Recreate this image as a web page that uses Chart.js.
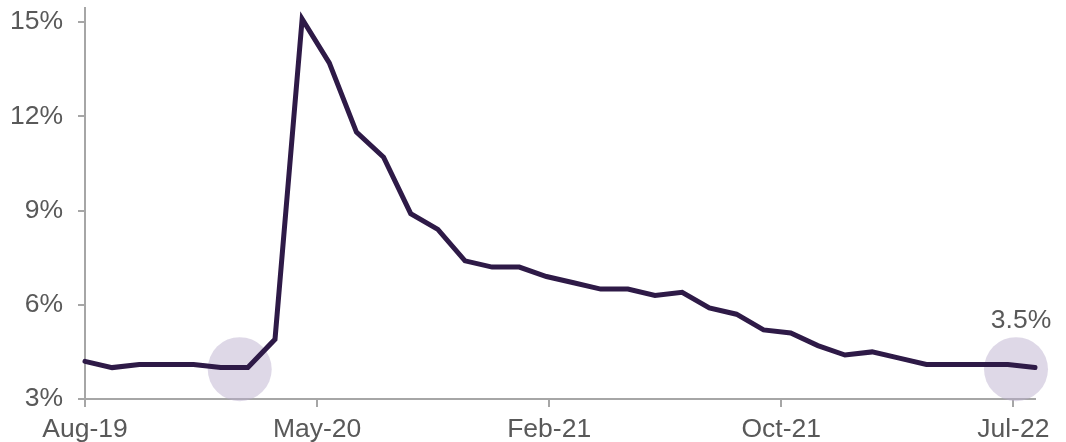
<!DOCTYPE html>
<html>
<head>
<meta charset="utf-8">
<script src="https://cdn.jsdelivr.net/npm/chart.js@4"></script>
<style>
  html, body { margin: 0; padding: 0; background: #fff; }
  #wrap { width: 1066px; height: 442px; }
</style>
</head>
<body>
<div id="wrap"><canvas id="rateChart" width="1066" height="442"></canvas></div>
<script>
// monthly series, Aug-19 .. Jul-22
const months = ['Aug-19','Sep-19','Oct-19','Nov-19','Dec-19','Jan-20','Feb-20','Mar-20','Apr-20','May-20','Jun-20','Jul-20',
                'Aug-20','Sep-20','Oct-20','Nov-20','Dec-20','Jan-21','Feb-21','Mar-21','Apr-21','May-21','Jun-21','Jul-21',
                'Aug-21','Sep-21','Oct-21','Nov-21','Dec-21','Jan-22','Feb-22','Mar-22','Apr-22','May-22','Jun-22','Jul-22'];
const rate = [4.2, 4.0, 4.1, 4.1, 4.1, 4.0, 4.0, 4.9, 15.1, 13.7, 11.5, 10.7,
              8.9, 8.4, 7.4, 7.2, 7.2, 6.9, 6.7, 6.5, 6.5, 6.3, 6.4, 5.9,
              5.7, 5.2, 5.1, 4.7, 4.4, 4.5, 4.3, 4.1, 4.1, 4.1, 4.1, 4.0];

// axis ticks
const xTickLabels = ['Aug-19', 'May-20', 'Feb-21', 'Oct-21', 'Jul-22'];
const xTickAt = [0, 8.55, 17.1, 25.65, 34.2];
const yTicks = [3, 6, 9, 12, 15];

// highlighted spots
const highlightX = [5.7, 34.3];
const highlightY = [3.95, 3.95];
const highlightLabel = ['', '3.5%'];

const font = { family: '"Liberation Sans", Arial, sans-serif', size: 26.5 };
const textColor = '#595959';
const axisColor = '#a6a6a6';

const labelPlugin = {
    id: 'highlightLabels',
    afterDatasetsDraw(chart) {
        const ctx = chart.ctx;
        const xs = chart.scales.x, ys = chart.scales.y;
        ctx.save();
        ctx.font = font.size + 'px ' + font.family;
        ctx.fillStyle = textColor;
        ctx.textAlign = 'center';
        ctx.textBaseline = 'alphabetic';
        highlightLabel.forEach((t, i) => {
            if (!t) return;
            const px = xs.getPixelForValue(highlightX[i]);
            const py = ys.getPixelForValue(highlightY[i]);
            ctx.fillText(t, px + 5, py - 32 - 9);
        });
        ctx.restore();
    }
};

const ctx = document.getElementById('rateChart').getContext('2d');
const chart = new Chart(ctx, {
    type: 'line',
    data: {
        datasets: [
            {
                label: 'Rate',
                data: rate.map((v, i) => ({ x: i, y: v })),
                borderColor: '#2e1a47',
                borderWidth: 5,
                borderCapStyle: 'round',
                borderJoinStyle: 'miter',
                pointRadius: 0,
                tension: 0,
                fill: false,
                clip: false,
                order: 0
            },
            {
                label: 'highlight',
                type: 'scatter',
                data: highlightX.map((x, i) => ({ x: x, y: highlightY[i] })),
                pointRadius: 32,
                pointHoverRadius: 32,
                pointBackgroundColor: 'rgba(185,172,205,0.47)',
                pointBorderWidth: 0,
                clip: false,
                order: 1
            }
        ]
    },
    options: {
        responsive: false,
        animation: false,
        layout: { autoPadding: false, padding: { top: 8, right: 31, left: 0, bottom: 0 } },
        plugins: {
            legend: { display: false },
            tooltip: { enabled: false }
        },
        scales: {
            x: {
                type: 'linear',
                min: 0,
                max: months.length - 1,
                afterBuildTicks: (s) => { s.ticks = xTickAt.map(v => ({ value: v })); },
                afterFit: (s) => { s.height = 43; s.paddingLeft = 0; s.paddingRight = 0; },
                border: { display: true, color: axisColor, width: 2 },
                grid: { drawOnChartArea: false, drawTicks: true, tickLength: 8, color: axisColor, lineWidth: 2 },
                ticks: {
                    autoSkip: false,
                    maxRotation: 0,
                    padding: 7,
                    font: font,
                    color: textColor,
                    callback: (v, i) => xTickLabels[i]
                }
            },
            y: {
                min: 3,
                max: 15.45,
                afterBuildTicks: (s) => { s.ticks = yTicks.map(v => ({ value: v })); },
                afterFit: (s) => { s.width = 85; s.paddingTop = 0; s.paddingBottom = 0; },
                border: { display: true, color: axisColor, width: 2 },
                grid: { drawOnChartArea: false, drawTicks: true, tickLength: 7, color: axisColor, lineWidth: 2 },
                ticks: {
                    padding: 15,
                    font: font,
                    color: textColor,
                    callback: (v) => v + '%'
                }
            }
        }
    },
    plugins: [labelPlugin]
});
</script>
</body>
</html>
